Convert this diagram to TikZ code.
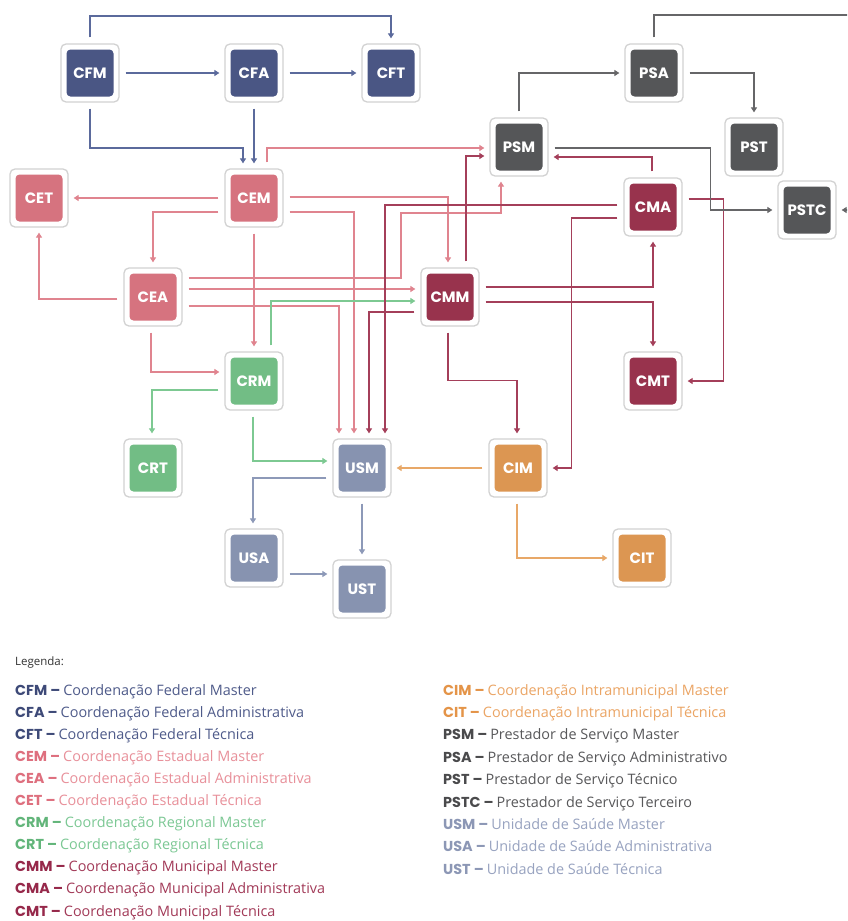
\documentclass[tikz,border=0pt]{standalone}
\usepackage{fontspec}
\setmainfont{Open Sans}
\newfontfamily\labfont{Poppins}
\usetikzlibrary{arrows.meta,calc}
\definecolor{fedF}{HTML}{4A5684}
\definecolor{fedL}{HTML}{5B6A9C}
\definecolor{estF}{HTML}{D6737F}
\definecolor{estL}{HTML}{E0848F}
\definecolor{regF}{HTML}{72BD85}
\definecolor{regL}{HTML}{7DC992}
\definecolor{munF}{HTML}{98334D}
\definecolor{munL}{HTML}{A43F5A}
\definecolor{intF}{HTML}{DC9652}
\definecolor{intL}{HTML}{E8A868}
\definecolor{psF}{HTML}{555658}
\definecolor{psL}{HTML}{666668}
\definecolor{usF}{HTML}{8793B0}
\definecolor{usL}{HTML}{8D99B8}
\definecolor{frameG}{HTML}{D2D2D2}
\definecolor{legG}{HTML}{333333}
\definecolor{fedA}{HTML}{3E4A78}
\definecolor{fedT}{HTML}{4F5B8A}
\definecolor{estA}{HTML}{DE6F7E}
\definecolor{estT}{HTML}{E8909A}
\definecolor{regA}{HTML}{62B57A}
\definecolor{regT}{HTML}{7CC894}
\definecolor{munA}{HTML}{96284A}
\definecolor{munT}{HTML}{A23A58}
\definecolor{intA}{HTML}{E49448}
\definecolor{intT}{HTML}{EBA565}
\definecolor{psA}{HTML}{4A4A4C}
\definecolor{psT}{HTML}{58585A}
\definecolor{usA}{HTML}{8C97B5}
\definecolor{usT}{HTML}{98A3C0}
\newcommand\lgentry[4]{\textcolor{#1}{\labfont\bfseries #3 –}\hspace{3pt}\textcolor{#2}{#4}}
\tikzset{
  unit/.style={minimum width=58pt, minimum height=58pt, inner sep=0pt,
    rounded corners=5pt, draw=frameG, line width=1.3pt, fill=white, text=white,
    font=\labfont\bfseries\fontsize{15}{15}\selectfont,
    path picture={\fill[#1, rounded corners=4pt]
      ($(path picture bounding box.south west)+(5.5pt,5.5pt)$) rectangle
      ($(path picture bounding box.north east)+(-5.5pt,-5.5pt)$);}},
  conn/.style={draw=#1, line width=1.2pt, -{Triangle[length=5pt,width=6pt]},
    shorten <=6pt, shorten >=5pt},
  fedln/.style={conn=fedL}, estln/.style={conn=estL}, regln/.style={conn=regL},
  munln/.style={conn=munL}, intln/.style={conn=intL}, psln/.style={conn=psL},
  usln/.style={conn=usL},
  leg/.style={anchor=base west, inner sep=0pt, font=\fontsize{14.4}{16}\selectfont}
}
\begin{document}
\begin{tikzpicture}[x=1pt,y=-1pt]
\useasboundingbox (0,0) rectangle (847,921);
\clip (0,0) rectangle (847,921);
\fill[white] (0,0) rectangle (847,921);
% nodes
\node[unit=fedF] (CFM) at (90,73) {CFM};
\node[unit=fedF] (CFA) at (254,73) {CFA};
\node[unit=fedF] (CFT) at (391,73) {CFT};
\node[unit=psF] (PSA) at (654,73) {PSA};
\node[unit=psF] (PSM) at (519,147) {PSM};
\node[unit=psF] (PST) at (754,147) {PST};
\node[unit=estF] (CET) at (39,198) {CET};
\node[unit=estF] (CEM) at (254,198) {CEM};
\node[unit=munF] (CMA) at (653,207) {CMA};
\node[unit=psF] (PSTC) at (807,210) {PSTC};
\node[unit=estF] (CEA) at (153,297) {CEA};
\node[unit=munF] (CMM) at (450,297) {CMM};
\node[unit=regF] (CRM) at (254,381) {CRM};
\node[unit=munF] (CMT) at (653,381) {CMT};
\node[unit=regF] (CRT) at (153,468) {CRT};
\node[unit=usF] (USM) at (362,468) {USM};
\node[unit=intF] (CIM) at (518,468) {CIM};
\node[unit=usF] (USA) at (254,558) {USA};
\node[unit=intF] (CIT) at (642,558) {CIT};
\node[unit=usF] (UST) at (362,589) {UST};
% federal
\draw[fedln] (CFM.north) |- (300,16) -| (CFT.north);
\draw[fedln] (CFM.east) -- (CFA.west);
\draw[fedln] (CFA.east) -- (CFT.west);
\draw[fedln] (CFM.south) |- (200,148) -| ($(CEM.north)+(-11,0)$);
\draw[fedln] (CFA.south) -- (CEM.north);
% estadual
\draw[estln] ($(CEM.north)+(13,0)$) |- ($(PSM.west)+(0,1)$);
\draw[estln] (CEM.west) -- (CET.east);
\draw[estln] ($(CEM.west)+(0,14)$) -| (CEA.north);
\draw[estln] (CEM.south) -- (CRM.north);
\draw[estln] ($(CEM.east)+(0,-1)$) -| ($(CMM.north)+(-2,0)$);
\draw[estln] ($(CEM.east)+(0,14)$) -| ($(USM.north)+(-8,0)$);
\draw[estln] ($(CEA.west)+(0,2)$) -| (CET.south);
\draw[estln] ($(CEA.east)+(0,-19)$) -| (401,213) -| ($(PSM.south)+(-18,0)$);
\draw[estln] ($(CEA.east)+(0,-8)$) -- ($(CMM.west)+(0,-8)$);
\draw[estln] ($(CEA.east)+(0,9)$) -| ($(USM.north)+(-23,0)$);
\draw[estln] ($(CEA.south)+(-2,0)$) |- ($(CRM.west)+(0,-9)$);
% regional
\draw[regln] ($(CRM.north)+(17,0)$) |- ($(CMM.west)+(0,4)$);
\draw[regln] ($(CRM.west)+(0,9)$) -| ($(CRT.north)+(-1,0)$);
\draw[regln] ($(CRM.south)+(-1,0)$) |- ($(USM.west)+(0,-7)$);
% unidade de saude
\draw[usln] ($(USM.west)+(0,10)$) -| ($(USA.north)+(-1,0)$);
\draw[usln] (USM.south) -- (UST.north);
\draw[usln] ($(USA.east)+(0,16)$) -- ($(UST.west)+(0,-15)$);
% intramunicipal
\draw[intln] (CIM.west) -- (USM.east);
\draw[intln] ($(CIM.south)+(-1,0)$) |- (CIT.west);
% municipal
\draw[munln] ($(CMM.north)+(16,0)$) |- ($(PSM.west)+(0,9)$);
\draw[munln] ($(CMM.east)+(0,-10)$) -| (CMA.south);
\draw[munln] ($(CMM.east)+(0,5)$) -| (CMT.north);
\draw[munln] ($(CMM.south)+(-2,0)$) -- ++(0,54) -| ($(CIM.north)+(-1,0)$);
\draw[munln] ($(CMM.west)+(0,15)$) -| ($(USM.north)+(7,0)$);
\draw[munln] ($(CMA.north)+(-1,0)$) |- ($(PSM.east)+(0,10)$);
\draw[munln] ($(CMA.west)+(0,-2)$) -| ($(USM.north)+(23,0)$);
\draw[munln] ($(CMA.west)+(0,11)$) -| ($(CIM.east)+(24,0)$) -- (CIM.east);
\draw[munln] ($(CMA.east)+(0,-8)$) -| ($(CMT.east)+(41,0)$) -- (CMT.east);
% prestador
\draw[psln] (PSM.north) |- (PSA.west);
\draw[psln] (PSA.east) -| (PST.north);
\draw[psln] (PSA.north) |- (880,15) |- (PSTC.east);
\draw[psln] ($(PSM.east)+(0,1)$) -| ($(PSTC.west)+(-67,0)$) -- (PSTC.west);
% legend
\node[leg, font=\fontsize{11.5}{13}\selectfont, text=legG] (lgh) at (15,665) {Legenda:};
\node[leg] (l1) at (15,695) {\lgentry{fedA}{fedT}{CFM}{Coordenação Federal Master}};
\node[leg] (l2) at (15,717.1) {\lgentry{fedA}{fedT}{CFA}{Coordenação Federal Administrativa}};
\node[leg] (l3) at (15,739.2) {\lgentry{fedA}{fedT}{CFT}{Coordenação Federal Técnica}};
\node[leg] (l4) at (15,761.3) {\lgentry{estA}{estT}{CEM}{Coordenação Estadual Master}};
\node[leg] (l5) at (15,783.4) {\lgentry{estA}{estT}{CEA}{Coordenação Estadual Administrativa}};
\node[leg] (l6) at (15,805.5) {\lgentry{estA}{estT}{CET}{Coordenação Estadual Técnica}};
\node[leg] (l7) at (15,827.6) {\lgentry{regA}{regT}{CRM}{Coordenação Regional Master}};
\node[leg] (l8) at (15,849.7) {\lgentry{regA}{regT}{CRT}{Coordenação Regional Técnica}};
\node[leg] (l9) at (15,871.8) {\lgentry{munA}{munT}{CMM}{Coordenação Municipal Master}};
\node[leg] (l10) at (15,893.9) {\lgentry{munA}{munT}{CMA}{Coordenação Municipal Administrativa}};
\node[leg] (l11) at (15,916) {\lgentry{munA}{munT}{CMT}{Coordenação Municipal Técnica}};
\node[leg] (r1) at (443,695) {\lgentry{intA}{intT}{CIM}{Coordenação Intramunicipal Master}};
\node[leg] (r2) at (443,717.4) {\lgentry{intA}{intT}{CIT}{Coordenação Intramunicipal Técnica}};
\node[leg] (r3) at (443,739.8) {\lgentry{psA}{psT}{PSM}{Prestador de Serviço Master}};
\node[leg] (r4) at (443,762.2) {\lgentry{psA}{psT}{PSA}{Prestador de Serviço Administrativo}};
\node[leg] (r5) at (443,784.6) {\lgentry{psA}{psT}{PST}{Prestador de Serviço Técnico}};
\node[leg] (r6) at (443,807) {\lgentry{psA}{psT}{PSTC}{Prestador de Serviço Terceiro}};
\node[leg] (r7) at (443,829.4) {\lgentry{usA}{usT}{USM}{Unidade de Saúde Master}};
\node[leg] (r8) at (443,851.8) {\lgentry{usA}{usT}{USA}{Unidade de Saúde Administrativa}};
\node[leg] (r9) at (443,874.2) {\lgentry{usA}{usT}{UST}{Unidade de Saúde Técnica}};
\end{tikzpicture}
\end{document}
